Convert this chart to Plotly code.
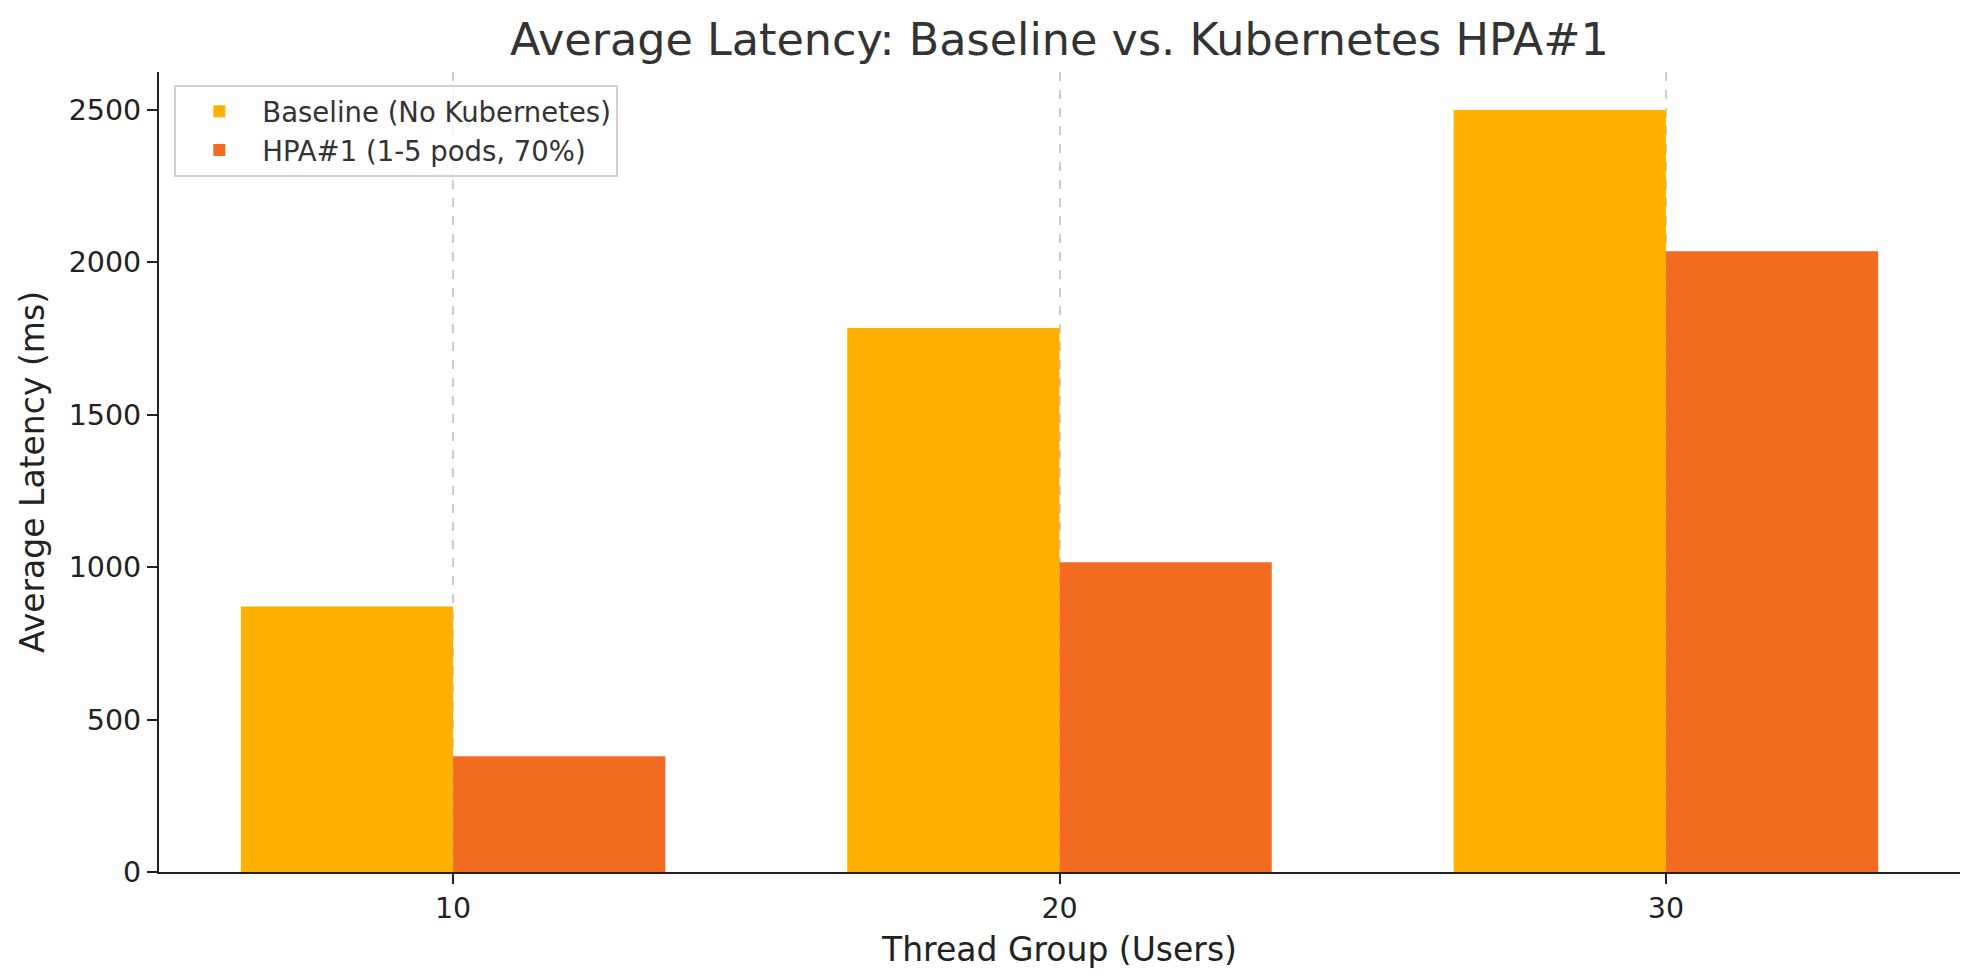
import plotly.graph_objects as go

thread_groups = [10, 20, 30]
baseline = [871, 1785, 2500]
hpa1 = [380, 1016, 2037]
series_names = ["Baseline (No Kubernetes)", "HPA#1 (1-5 pods, 70%)"]
y_ticks = [0, 500, 1000, 1500, 2000, 2500]

BAR_W = 3.5
FONT = "DejaVu Sans"

fig = go.Figure()
fig.add_trace(go.Bar(
    x=thread_groups, y=baseline, name=series_names[0],
    width=BAR_W, offset=-BAR_W, marker=dict(color="#FFB000", line=dict(width=0)),
))
fig.add_trace(go.Bar(
    x=thread_groups, y=hpa1, name=series_names[1],
    width=BAR_W, offset=0, marker=dict(color="#F26B21", line=dict(width=0)),
))

xmin = min(thread_groups) - BAR_W
xmax = max(thread_groups) + BAR_W
pad = (xmax - xmin) * 0.05
ymax = max(baseline + hpa1) * 1.05

fig.update_layout(
    width=1979, height=980,
    margin=dict(l=159, r=19, t=72, b=108),
    paper_bgcolor="white", plot_bgcolor="white",
    font=dict(family=FONT, color="#222222"),
    barmode="overlay",
    title=dict(
        text="Average Latency: Baseline vs. Kubernetes HPA#1",
        font=dict(family=FONT, size=44.5, color="#333333"),
        x=0.5, xref="paper", xanchor="center",
        y=1 - 39 / 980, yref="container", yanchor="middle",
    ),
    showlegend=True,
    legend=dict(
        x=0.0085, y=0.984, xanchor="left", yanchor="top",
        bgcolor="rgba(255,255,255,0.8)", bordercolor="#d0d0d0", borderwidth=2,
        font=dict(family=FONT, size=27.5, color="#333333"),
        itemsizing="constant", itemwidth=76,
    ),
    xaxis=dict(
        range=[xmin - pad, xmax + pad],
        tickmode="array", tickvals=thread_groups, ticktext=[str(v) for v in thread_groups],
        ticks="outside", ticklen=10, tickwidth=2, tickcolor="#222222",
        tickfont=dict(family=FONT, size=28.5, color="#222222"),
        showline=True, linecolor="#222222", linewidth=2.2,
        showgrid=True, gridcolor="#cccccc", gridwidth=1.5, griddash="dash",
        zeroline=False,
        title=dict(text="Thread Group (Users)", font=dict(family=FONT, size=33, color="#222222"), standoff=14),
        automargin=False,
    ),
    yaxis=dict(
        range=[0, ymax],
        tickmode="array", tickvals=y_ticks, ticktext=[str(v) for v in y_ticks],
        ticks="outside", ticklen=10, tickwidth=2, tickcolor="#222222",
        tickfont=dict(family=FONT, size=28.5, color="#222222"),
        showline=True, linecolor="#222222", linewidth=2.2,
        showgrid=False, zeroline=False,
        title=dict(text="Average Latency (ms)", font=dict(family=FONT, size=33, color="#222222"), standoff=14),
        automargin=False,
    ),
)

fig.write_html("out.html")
